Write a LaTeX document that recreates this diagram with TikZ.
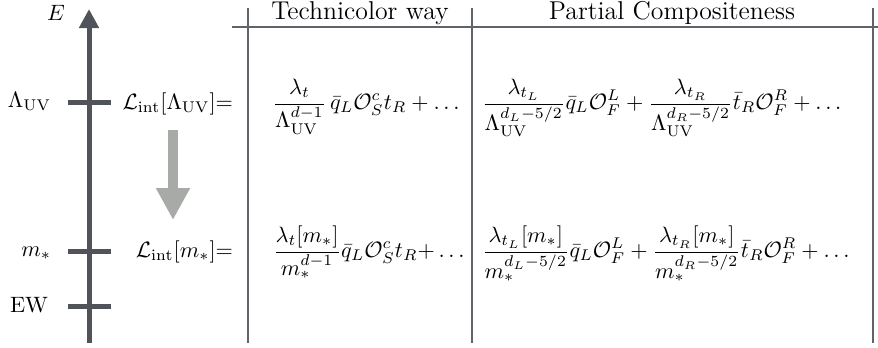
\documentclass[tikz,border=0pt]{standalone}
\usetikzlibrary{arrows.meta}
\definecolor{axisgray}{RGB}{80,84,90}
\definecolor{linegray}{RGB}{96,100,106}
\definecolor{arrowgray}{RGB}{168,170,168}
\begin{document}
\begin{tikzpicture}[x=0.45pt,y=-0.45pt,
  axisline/.style={line width=2.25pt, draw=axisgray},
  tickmark/.style={line width=2.25pt, draw=axisgray},
  rule/.style={line width=0.9pt, draw=linegray},
  lab/.style={inner sep=0pt, outer sep=0pt},
  head/.style={inner sep=0pt, outer sep=0pt, font=\fontsize{11.6}{14}\selectfont}]
\useasboundingbox (0,0) rectangle (878,347);
% energy axis
\coordinate (axB) at (89,343);
\coordinate (axT) at (89,9);
\draw[axisline, -{Triangle[width=8.6pt,length=8.6pt]}] (axB) -- (axT);
\node[lab, anchor=base] (E) at (56,20) {$E$};
% ticks
\coordinate (tUVl) at (68,102);  \coordinate (tUVr) at (111,102);
\coordinate (tMl) at (68,251);   \coordinate (tMr) at (111,251);
\coordinate (tEWl) at (68,306);  \coordinate (tEWr) at (111,306);
\draw[tickmark] (tUVl) -- (tUVr);
\draw[tickmark] (tMl) -- (tMr);
\draw[tickmark] (tEWl) -- (tEWr);
\node[lab, anchor=base east] (lUV) at (51,107) {$\Lambda_{\rm UV}$};
\node[lab, anchor=base east] (lM) at (51,256) {$m_*$};
\node[lab, anchor=base east] (lEW) at (48,312) {EW};
% Lagrangian labels
\node[lab, anchor=base east] (LUV) at (233,109.6) {$\mathcal{L}_{\rm int}[\Lambda_{\rm UV}]{=}$};
\node[lab, anchor=base east] (LM) at (233,257.6) {$\mathcal{L}_{\rm int}[m_*]{=}$};
% running arrow
\coordinate (gaT) at (173,130);
\coordinate (gaB) at (173,220);
\draw[line width=4.5pt, draw=arrowgray, fill=arrowgray,
  -{Triangle[width=14.4pt,length=14.4pt]}] (gaT) -- (gaB);
% table rules
\coordinate (v1t) at (248,8);  \coordinate (v1b) at (248,343);
\coordinate (v2t) at (472,8);  \coordinate (v2b) at (472,343);
\coordinate (v3t) at (873,8);  \coordinate (v3b) at (873,343);
\coordinate (hl) at (232,27);  \coordinate (hr) at (878,27);
\draw[rule] (v1t) -- (v1b);
\draw[rule] (v2t) -- (v2b);
\draw[rule] (v3t) -- (v3b);
\draw[rule] (hl) -- (hr);
% headers
\node[head, anchor=base] (hTC) at (360,19.5) {Technicolor way};
\node[head, anchor=base] (hPC) at (672,19.5) {Partial Compositeness};
% formulas
\node[lab, anchor=base west] (f1) at (272.5,109.6)
  {$\displaystyle\frac{\lambda_t}{\Lambda_{\rm UV}^{d-1}}\,\bar q_L\mathcal{O}_S^c t_R+\ldots$};
\node[lab, anchor=base west] (f2) at (482,109.6)
  {$\displaystyle\frac{\lambda_{t_L}}{\Lambda_{\rm UV}^{d_L-5/2}}\bar q_L\mathcal{O}_F^L+\frac{\lambda_{t_R}}{\Lambda_{\rm UV}^{d_R-5/2}}\bar t_R\mathcal{O}_F^R+\ldots$};
\node[lab, anchor=base west] (f3) at (273,257.6)
  {$\displaystyle\frac{\lambda_t[m_*]}{m_*^{d-1}}\bar q_L\mathcal{O}_S^c t_R{+}\ldots$};
\node[lab, anchor=base west] (f4) at (482,257.6)
  {$\displaystyle\frac{\lambda_{t_L}[m_*]}{m_*^{d_L-5/2}}\bar q_L\mathcal{O}_F^L+\frac{\lambda_{t_R}[m_*]}{m_*^{d_R-5/2}}\bar t_R\mathcal{O}_F^R+\ldots$};
\end{tikzpicture}
\end{document}
